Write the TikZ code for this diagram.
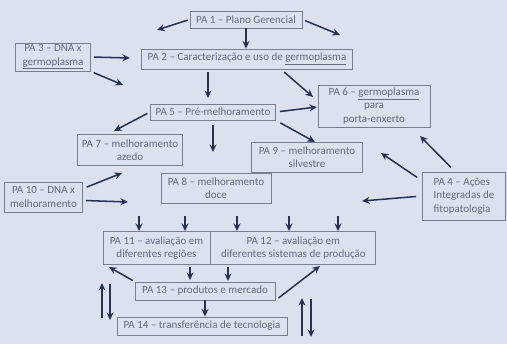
\documentclass[tikz,border=0pt]{standalone}
\usepackage{fontspec}
\setmainfont{Carlito}
\usetikzlibrary{arrows.meta, positioning}
\definecolor{screen}{RGB}{219,226,237}
\definecolor{txt}{RGB}{98,106,124}
\definecolor{edge}{RGB}{120,126,142}
\definecolor{navy}{RGB}{40,50,88}
\newlength\pxu \setlength\pxu{0.3mm}

\begin{document}
\begin{tikzpicture}[x=0.3mm, y=-0.3mm, box/.style={draw=edge, line width=0.75pt, text=txt, align=center, inner sep=0pt, font=\fontsize{9.4}{11.5}\selectfont}, arr/.style={navy, line width=1.3pt, -{Stealth[length=6.5pt, width=6pt]}}]
  \fill[screen] (0,0) rectangle (507,344);
  \node[box, minimum width=112\pxu, minimum height=17\pxu] (pa1) at (246,19.5) {PA 1 – Plano Gerencial};
  \node[box, minimum width=211\pxu, minimum height=20\pxu] (pa2) at (247,59) {PA 2 – Caracterização e uso de \underline{germoplasma}};
  \node[box, minimum width=75\pxu, minimum height=28\pxu] (pa3) at (53,57) {PA 3 – DNA x\\\underline{germoplasma}};
  \node[box, minimum width=125\pxu, minimum height=16\pxu] (pa5) at (213,112) {PA 5 – Pré-melhoramento};
  \node[box, minimum width=112\pxu, minimum height=42\pxu] (pa6) at (374,106) {PA 6 – \underline{germoplasma}\\para\\porta-enxerto};
  \node[box, minimum width=105\pxu, minimum height=31\pxu] (pa7) at (130,150) {PA 7 – melhoramento\\azedo};
  \node[box, minimum width=111\pxu, minimum height=30\pxu] (pa9) at (307,157) {PA 9 – melhoramento\\silvestre};
  \node[box, minimum width=110\pxu, minimum height=30\pxu] (pa8) at (216,188) {PA 8 – melhoramento\\doce};
  \node[box, align=left, minimum width=83\pxu, minimum height=48\pxu] (pa4) at (464,196) {PA 4 – Ações\\Integradas de\\fitopatologia};
  \node[box, minimum width=78\pxu, minimum height=30\pxu] (pa10) at (43.5,197) {PA 10 – DNA x\\melhoramento};
  \node[box, minimum width=107\pxu, minimum height=33\pxu] (pa11) at (156.5,248) {PA 11 – avaliação em\\diferentes regiões};
  \node[box, minimum width=165\pxu, minimum height=33\pxu, right=0pt of pa11] (pa12) {PA 12 – avaliação em\\diferentes sistemas de produção};
  \node[box, minimum width=140\pxu, minimum height=18\pxu] (pa13) at (205,291) {PA 13 – produtos e mercado};
  \node[box, minimum width=170\pxu, minimum height=18\pxu] (pa14) at (202,326) {PA 14 – transferência de tecnologia};

  \coordinate (t1) at (157,30);
  \coordinate (t3) at (340,35);
  \coordinate (t4) at (130,58);
  \coordinate (t5) at (123,85);
  \coordinate (t6) at (208,98);
  \coordinate (t7) at (313,97);
  \coordinate (t8) at (114,131);
  \coordinate (t9) at (213,152);
  \coordinate (t10) at (317,107);
  \coordinate (t11) at (315,142);
  \coordinate (t12) at (420,136);
  \coordinate (t13) at (381,153);
  \coordinate (t14) at (362,201);
  \coordinate (t15) at (122,173);
  \coordinate (t16) at (128,202);
  \coordinate (d1) at (139,216);
  \coordinate (d2) at (185,216);
  \coordinate (d3) at (237,216);
  \coordinate (d4) at (289,216);
  \coordinate (d5) at (338,216);
  \coordinate (t22) at (190,280);
  \coordinate (t23) at (228,281);
  \coordinate (t24) at (109,267);
  \coordinate (t25) at (320,266);
  \coordinate (u1) at (102,318);
  \coordinate (u2) at (102,283);
  \coordinate (v1) at (110,284);
  \coordinate (v2) at (110,320);
  \coordinate (w1) at (302,336);
  \coordinate (w2) at (302,298);
  \coordinate (z1) at (311,299);
  \coordinate (z2) at (311,337);

  \draw[arr, shorten <=2\pxu] (pa1.west) -- (t1);
  \draw[arr] (pa1) -- (pa1 |- pa2.north);
  \draw[arr, shorten <=3\pxu] (pa1.east) -- (t3);
  \draw[arr, shorten <=3\pxu] (pa3.east) -- (t4);
  \draw[arr, shorten <=3\pxu] (pa3.south east) -- (t5);
  \draw[arr, shorten <=3\pxu] (pa2.south -| t6) -- (t6);
  \draw[arr, shorten <=4\pxu] (pa2.-17) -- (t7);
  \draw[arr, shorten <=3\pxu] (pa5.west) -- (t8);
  \draw[arr, shorten <=5\pxu] (pa5.south -| t9) -- (t9);
  \draw[arr, shorten <=4\pxu] (pa5.east) -- (t10);
  \draw[arr, shorten <=5\pxu] (pa5.south east) -- (t11);
  \draw[arr, shorten <=6\pxu] (pa4.110) -- (t12);
  \draw[arr, shorten <=6\pxu] (pa4.160) -- (t13);
  \draw[arr, shorten <=6\pxu] (pa4.west) -- (t14);
  \draw[arr, shorten <=4\pxu] (pa10.12) -- (t15);
  \draw[arr, shorten <=3\pxu] (pa10.-5) -- (t16);
  \foreach \d in {d1,d2} \draw[arr] (\d) -- (\d |- pa11.north);
  \foreach \d in {d3,d4,d5} \draw[arr] (\d) -- (\d |- pa12.north);
  \draw[arr, shorten <=2\pxu] (pa11.south -| t22) -- (t22);
  \draw[arr, shorten <=2\pxu] (pa12.south -| t23) -- (t23);
  \draw[arr, shorten <=2\pxu] (pa13.north west) -- (t24);
  \draw[arr, shorten <=4\pxu] (pa13.south east) -- (t25);
  \draw[arr] (pa13) -- (pa13 |- pa14.north);
  \draw[arr] (u1) -- (u2);
  \draw[arr] (v1) -- (v2);
  \draw[arr] (w1) -- (w2);
  \draw[arr] (z1) -- (z2);
\end{tikzpicture}
\end{document}
